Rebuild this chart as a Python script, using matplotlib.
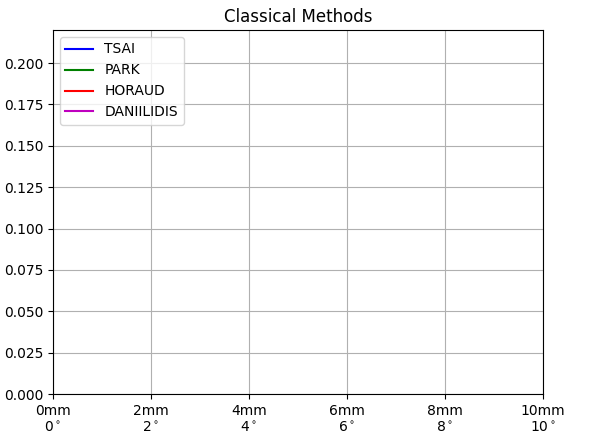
import matplotlib
matplotlib.use("Agg")
import matplotlib.pyplot as plt

# series (no visible points in this frame)
methods = ["TSAI", "PARK", "HORAUD", "DANIILIDIS"]
colors = ["b", "g", "r", "m"]
x_vals = {m: [] for m in methods}
err_vals = {m: [] for m in methods}

tick_pos = [0, 2, 4, 6, 8, 10]
tick_labels = [f"{t}mm\n{t}$^\\circ$" for t in tick_pos]

fig = plt.figure(figsize=(6, 4.36), dpi=100)
ax = fig.add_axes([0.0883, 0.0963, 0.8167, 0.8349])

for m, c in zip(methods, colors):
    ax.plot(x_vals[m], err_vals[m], color=c, label=m)

ax.set_xlim(0, 10)
ax.set_ylim(0, 0.22)
ax.set_xticks(tick_pos)
ax.set_xticklabels(tick_labels)
ax.grid(True)
ax.legend(loc="upper left")
ax.set_title("Classical Methods")

fig.savefig("out.png", dpi=100)
